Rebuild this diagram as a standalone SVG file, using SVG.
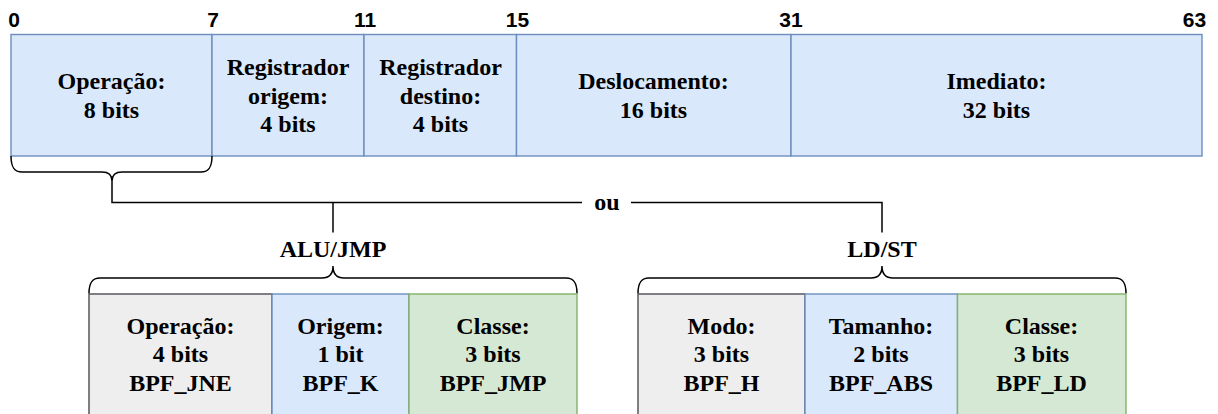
<svg xmlns="http://www.w3.org/2000/svg" width="1218" height="414" viewBox="0 0 1218 414">
<style>
.blue{fill:#dae8fc;stroke:#6c8ebf;stroke-width:1.4}
.gray{fill:#eeeeee;stroke:#4a4c50;stroke-width:1.4}
.green{fill:#d5e8d4;stroke:#82b366;stroke-width:1.4}
.t{font-family:"Liberation Serif","Times New Roman",serif;font-weight:bold;font-size:24px;fill:#000;text-anchor:middle}
.n{font-family:"Liberation Sans",Arial,sans-serif;font-weight:bold;font-size:21px;fill:#000;text-anchor:middle}
.ln{fill:none;stroke:#000;stroke-width:1.5}
</style>
<rect x="0" y="0" width="1218" height="414" fill="#ffffff"/>
<g id="bit-labels">
<text class="n" x="14" y="27">0</text>
<text class="n" x="213" y="27">7</text>
<text class="n" x="365" y="27">11</text>
<text class="n" x="517.5" y="27">15</text>
<text class="n" x="791" y="27">31</text>
<text class="n" x="1194.5" y="27">63</text>
</g>
<g id="field-operacao">
<rect class="blue" x="11" y="34.5" width="201" height="121.5"/>
<text class="t" x="111.5" y="89">Operação:</text>
<text class="t" x="111.5" y="117.8">8 bits</text>
</g>
<g id="field-reg-origem">
<rect class="blue" x="212" y="34.5" width="152" height="121.5"/>
<text class="t" x="288" y="75">Registrador</text>
<text class="t" x="288" y="103.5">origem:</text>
<text class="t" x="288" y="132.3">4 bits</text>
</g>
<g id="field-reg-destino">
<rect class="blue" x="364" y="34.5" width="152.5" height="121.5"/>
<text class="t" x="440.5" y="75">Registrador</text>
<text class="t" x="440.5" y="103.5">destino:</text>
<text class="t" x="440.5" y="132.3">4 bits</text>
</g>
<g id="field-deslocamento">
<rect class="blue" x="516.5" y="34.5" width="274.5" height="121.5"/>
<text class="t" x="653.5" y="89">Deslocamento:</text>
<text class="t" x="653.5" y="117.8">16 bits</text>
</g>
<g id="field-imediato">
<rect class="blue" x="791" y="34.5" width="411" height="121.5"/>
<text class="t" x="996.5" y="89">Imediato:</text>
<text class="t" x="996.5" y="117.8">32 bits</text>
</g>
<g id="connectors">
<path class="ln" d="M11,156 C11,167 14,172 22,172 L102,172 C109,172 112,175 112,181 C112,175 115,172 122,172 L201,172 C209,172 212,167 212,156"/>
<path class="ln" d="M112,181 L112,202.5 L582,202.5"/>
<path class="ln" d="M631,202.5 L882,202.5 L882,232.5"/>
<path class="ln" d="M333,202.5 L333,232.5"/>
<path class="ln" d="M89,293.5 C89,283 92,278 100,278 L322,278 C329,278 333,274 333,266 C333,274 337,278 344,278 L566,278 C574,278 577,283 577,293.5"/>
<path class="ln" d="M638,293.5 C638,283 641,278 649,278 L871,278 C878,278 882,274 882,266 C882,274 886,278 893,278 L1115,278 C1123,278 1126,283 1126,293.5"/>
</g>
<g id="label-ou">
<text class="t" x="607" y="209.5">ou</text>
</g>
<g id="label-alu">
<text class="t" x="333" y="257">ALU/JMP</text>
</g>
<g id="label-ldst">
<text class="t" x="882" y="257">LD/ST</text>
</g>
<g id="alu-operacao">
<rect class="gray" x="89" y="294" width="183" height="140"/>
<text class="t" x="180.5" y="333.5">Operação:</text>
<text class="t" x="180.5" y="362.3">4 bits</text>
<text class="t" x="180.5" y="391.1">BPF_JNE</text>
</g>
<g id="alu-origem">
<rect class="blue" x="272" y="294" width="137" height="140"/>
<text class="t" x="340.5" y="333.5">Origem:</text>
<text class="t" x="340.5" y="362.3">1 bit</text>
<text class="t" x="340.5" y="391.1">BPF_K</text>
</g>
<g id="alu-classe">
<rect class="green" x="409" y="294" width="168" height="140"/>
<text class="t" x="493" y="333.5">Classe:</text>
<text class="t" x="493" y="362.3">3 bits</text>
<text class="t" x="493" y="391.1">BPF_JMP</text>
</g>
<g id="ldst-modo">
<rect class="gray" x="638" y="294" width="167" height="140"/>
<text class="t" x="721.5" y="333.5">Modo:</text>
<text class="t" x="721.5" y="362.3">3 bits</text>
<text class="t" x="721.5" y="391.1">BPF_H</text>
</g>
<g id="ldst-tamanho">
<rect class="blue" x="805" y="294" width="152.5" height="140"/>
<text class="t" x="881" y="333.5">Tamanho:</text>
<text class="t" x="881" y="362.3">2 bits</text>
<text class="t" x="881" y="391.1">BPF_ABS</text>
</g>
<g id="ldst-classe">
<rect class="green" x="957.5" y="294" width="168.5" height="140"/>
<text class="t" x="1041.5" y="333.5">Classe:</text>
<text class="t" x="1041.5" y="362.3">3 bits</text>
<text class="t" x="1041.5" y="391.1">BPF_LD</text>
</g>
</svg>
